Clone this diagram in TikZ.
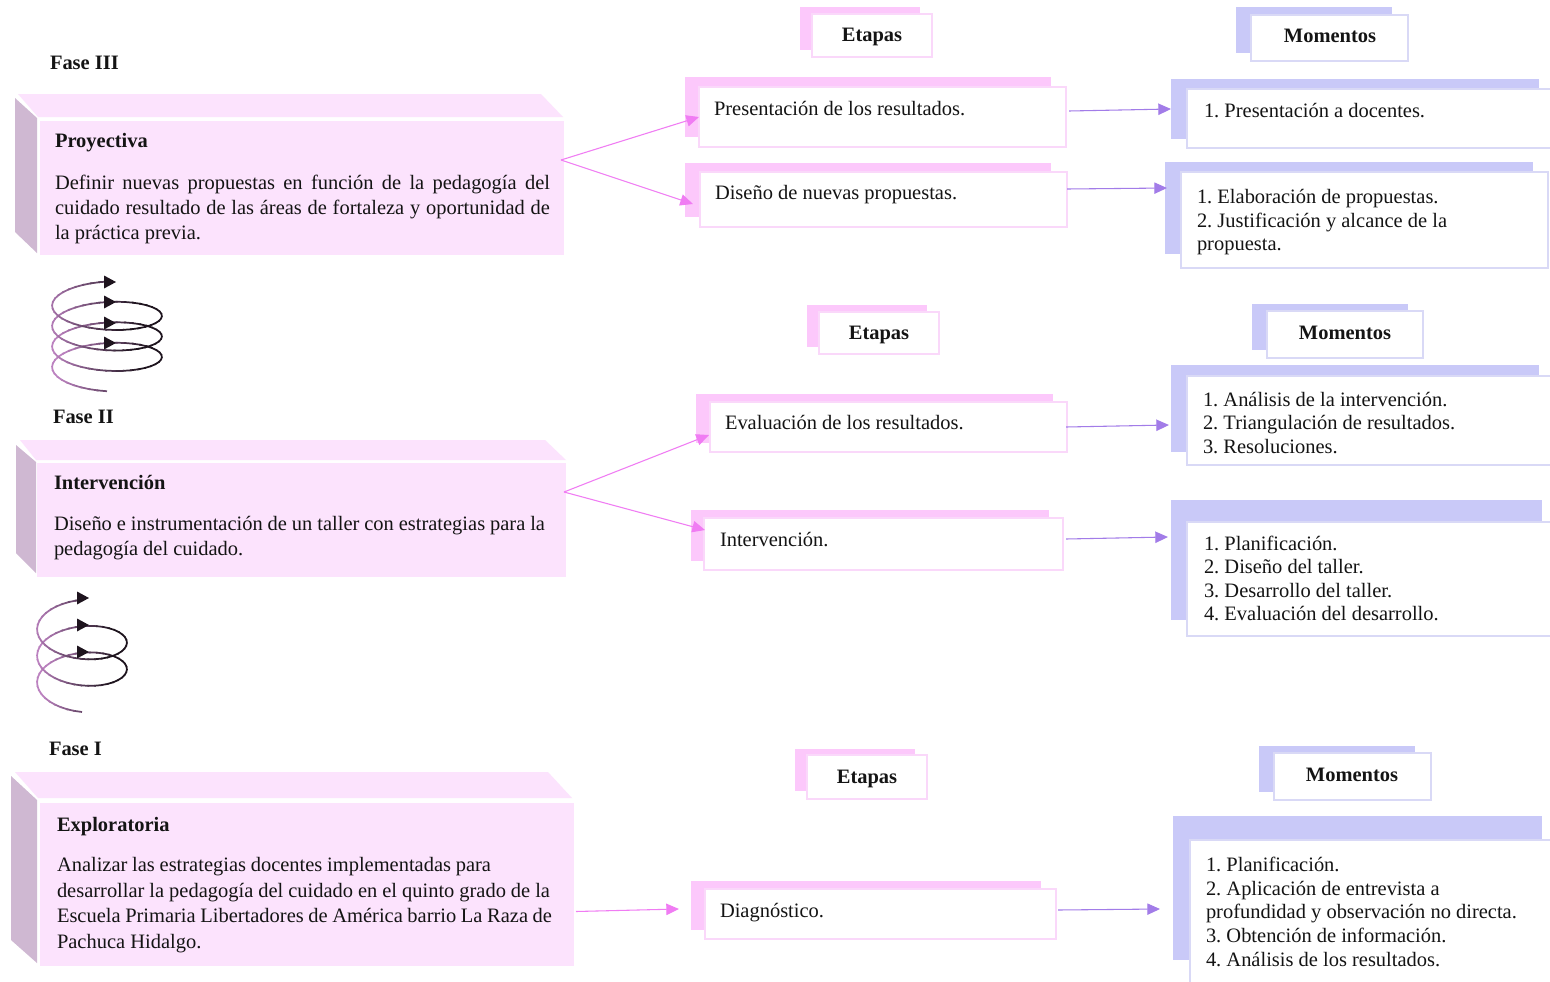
\documentclass[tikz,border=0pt]{standalone}
\usepackage{fontspec}
\setmainfont{Liberation Serif}
\usetikzlibrary{arrows.meta}
\definecolor{pinkback}{HTML}{FCC8FB}
\definecolor{pinkline}{HTML}{FAD8FA}
\definecolor{vioback}{HTML}{C9C9F8}
\definecolor{violine}{HTML}{D9D9F6}
\definecolor{mainfill}{HTML}{FCE3FD}
\definecolor{sidefill}{HTML}{CFB8D2}
\definecolor{pinkarrow}{HTML}{F07CF3}
\definecolor{vioarrow}{HTML}{A27CE8}
\definecolor{inktext}{HTML}{141414}
\definecolor{spdark}{HTML}{1E141E}
\definecolor{splight}{HTML}{BC82C0}
\tikzset{
  x=0.75pt,y=-0.75pt,
  box/.style n args={4}{at={({(#1+#3)/2},{(#2+#4)/2})},minimum width={(#3-#1)*0.75pt},minimum height={(#4-#2)*0.75pt},inner sep=0pt,outer sep=0pt},
  pback/.style={fill=pinkback},
  pfront/.style={fill=white,draw=pinkline,line width=1.1pt},
  vback/.style={fill=vioback},
  vfront/.style={fill=white,draw=violine,line width=1.1pt},
  mainbox/.style={fill=mainfill},
  tx/.style={anchor=base west,inner sep=0pt,outer sep=0pt,text=inktext,font=\fontsize{15.35pt}{18pt}\selectfont\frenchspacing},
  hd/.style={anchor=base west,inner sep=0pt,outer sep=0pt,text=inktext,font=\fontsize{15.35pt}{18pt}\selectfont\bfseries},
  hdc/.style={anchor=base,inner sep=0pt,outer sep=0pt,text=inktext,font=\fontsize{15.35pt}{18pt}\selectfont\bfseries},
  pconn/.style={draw=pinkarrow,line width=0.8pt,-{Triangle[length=9.5pt,width=8.5pt,fill=pinkarrow]}},
  vconn/.style={draw=vioarrow,line width=0.8pt,-{Triangle[length=9.5pt,width=8.5pt,fill=vioarrow]}},
}
% cx rx ry yc0 rise tmax : helix with purple left side and dark right side
\newcommand\helix[6]{%
  \foreach \k in {1,...,\numexpr\fpeval{round(#6*40)}\relax}{%
    \pgfmathsetmacro\ta{(\k-1)/40}%
    \pgfmathsetmacro\tb{(\k+0.25)/40}%
    \pgfmathsetmacro\tha{270-360*\ta}%
    \pgfmathsetmacro\thb{270-360*\tb}%
    \pgfmathsetmacro\mixv{max(0,min(100,50+62*cos(\tha)+8*\ta))}%
    \colorlet{spcol}{spdark!\mixv!splight}%
    \draw[spcol,line width=1.3pt,line cap=butt]
      ({#1+#2*cos(\tha)},{#4-#5*\ta-#3*sin(\tha)}) --
      ({#1+#2*cos(\thb)},{#4-#5*\tb-#3*sin(\thb)});
  }%
}
\newcommand\headmark[2]{\fill[spdark] (#1-3,#2-6.5) -- (#1+9,#2) -- (#1-3,#2+6.5) -- cycle;}
\newcommand\fitline[2]{\makebox[#1\dimexpr0.75pt\relax][s]{#2}}
\begin{document}
\begin{tikzpicture}
\clip (0,0) rectangle (1550,982);
\fill[white] (0,0) rectangle (1550,982);

% ---------- Phase III
\node[hd] (f3) at (50,69) {Fase III};
\fill[mainfill] (18,94) -- (541,94) -- (563,117) -- (38,117) -- cycle;
\fill[sidefill] (15,98) -- (37,118) -- (37,253) -- (15,232) -- cycle;
\node[mainbox,box={40}{121}{564}{255}] (p3) {};
\node[hd] (p3h) at (55,147) {Proyectiva};
\node[tx] (p3a) at (55,189) {\fitline{495}{Definir nuevas propuestas en función de la pedagogía del}};
\node[tx] (p3b) at (55,214) {\fitline{495}{cuidado resultado de las áreas de fortaleza y oportunidad de}};
\node[tx] (p3c) at (55,239) {la práctica previa.};

\node[pback,box={800}{7}{920}{50}] (e3b) {};
\node[pfront,box={812}{14}{932}{57}] (e3) {};
\node[hdc] (e3t) at (872,41) {Etapas};
\node[vback,box={1236}{7}{1392}{53}] (m3b) {};
\node[vfront,box={1251}{15}{1408}{61}] (m3) {};
\node[hdc] (m3t) at (1330,42) {Momentos};

\node[pback,box={685}{77}{1051}{137}] (a1b) {};
\node[pfront,box={699}{87}{1066}{147}] (a1) {};
\node[tx] (a1t) at (714,115) {Presentación de los resultados.};
\node[pback,box={685}{163}{1051}{217}] (a2b) {};
\node[pfront,box={700}{172}{1067}{227}] (a2) {};
\node[tx] (a2t) at (715,199) {Diseño de nuevas propuestas.};

\node[vback,box={1171}{79}{1539}{139}] (c1b) {};
\node[vfront,box={1187}{89}{1560}{148}] (c1) {};
\node[tx] (c1t) at (1204,117) {1. Presentación a docentes.};
\node[vback,box={1165}{162}{1533}{254}] (c2b) {};
\node[vfront,box={1181}{172}{1548}{268}] (c2) {};
\node[tx] (c2a) at (1197,203) {1. Elaboración de propuestas.};
\node[tx] (c2c) at (1197,227) {2. Justificación y alcance de la};
\node[tx] (c2d) at (1197,250) {propuesta.};

\draw[pconn] ([shift={(-3,-28)}]p3.east) -- (a1.west);
\draw[pconn] ([shift={(-3,-28)}]p3.east) -- ([shift={(8,14)}]a2b.west);
\draw[vconn] ([shift={(3,-6)}]a1.east) -- (c1b.west);
\draw[vconn] ([shift={(0,-10.5)}]a2.east) -- ([shift={(2,-20)}]c2b.west);

\helix{107}{55}{19}{372.25}{20.5}{3.5}
\headmark{107}{343}\headmark{107}{323}\headmark{107}{302}\headmark{107}{282}

% ---------- Phase II
\node[hd] (f2) at (53,423) {Fase II};
\fill[mainfill] (20,440) -- (545,440) -- (566,460) -- (36,460) -- cycle;
\fill[sidefill] (16,445) -- (36,462) -- (36,573) -- (16,553) -- cycle;
\node[mainbox,box={37}{463}{566}{577}] (p2) {};
\node[hd] (p2h) at (54,489) {Intervención};
\node[tx] (p2a) at (54,530) {\fitline{491}{Diseño e instrumentación de un taller con estrategias para la}};
\node[tx] (p2b) at (54,555) {pedagogía del cuidado.};

\node[pback,box={807}{305}{927}{347}] (e2b) {};
\node[pfront,box={819}{312}{939}{354}] (e2) {};
\node[hdc] (e2t) at (879,339) {Etapas};
\node[vback,box={1252}{304}{1408}{350}] (m2b) {};
\node[vfront,box={1267}{311}{1423}{358}] (m2) {};
\node[hdc] (m2t) at (1345,339) {Momentos};

\node[pback,box={696}{394}{1053}{443}] (b1b) {};
\node[pfront,box={710}{402}{1067}{452}] (b1) {};
\node[tx] (b1t) at (725,429) {Evaluación de los resultados.};
\node[pback,box={691}{510}{1049}{561}] (b2b) {};
\node[pfront,box={704}{518}{1063}{570}] (b2) {};
\node[tx] (b2t) at (720,546) {Intervención.};

\node[vback,box={1171}{365}{1539}{452}] (d1b) {};
\node[vfront,box={1187}{376}{1560}{465}] (d1) {};
\node[tx] (d1a) at (1203,406) {1. Análisis de la intervención.};
\node[tx] (d1c) at (1203,429) {2. Triangulación de resultados.};
\node[tx] (d1d) at (1203,453) {3. Resoluciones.};
\node[vback,box={1171}{500}{1542}{620}] (d2b) {};
\node[vfront,box={1187}{522}{1560}{636}] (d2) {};
\node[tx] (d2a) at (1204,550) {1. Planificación.};
\node[tx] (d2c) at (1204,573) {2. Diseño del taller.};
\node[tx] (d2d) at (1204,597) {3. Desarrollo del taller.};
\node[tx] (d2e) at (1204,620) {4. Evaluación del desarrollo.};

\draw[pconn] ([shift={(-2,-28)}]p2.east) -- ([shift={(-1,8)}]b1.west);
\draw[pconn] ([shift={(-2,-28)}]p2.east) -- ([shift={(1,-14)}]b2.west);
\draw[vconn] ([shift={(-1,0)}]b1.east) -- ([shift={(-2,16.5)}]d1b.west);
\draw[vconn] ([shift={(3,-5)}]b2.east) -- ([shift={(-3,-23)}]d2b.west);

\helix{82}{45}{23}{689}{26.5}{2.5}
\headmark{80}{652}\headmark{80}{625}\headmark{80}{598}

% ---------- Phase I
\node[hd] (f1) at (49,755) {Fase I};
\fill[mainfill] (15,772) -- (548,772) -- (572,798) -- (38,798) -- cycle;
\fill[sidefill] (11,776) -- (37,800) -- (37,963) -- (11,940) -- cycle;
\node[mainbox,box={40}{803}{574}{966}] (p1) {};
\node[hd] (p1h) at (57,831) {Exploratoria};
\node[tx] (p1a) at (57,871) {\fitline{434}{Analizar las estrategias docentes implementadas para}};
\node[tx] (p1b) at (57,897) {\fitline{493}{desarrollar la pedagogía del cuidado en el quinto grado de la}};
\node[tx] (p1c) at (57,922) {\fitline{495}{Escuela Primaria Libertadores de América barrio La Raza de}};
\node[tx] (p1d) at (57,948) {Pachuca Hidalgo.};

\node[pback,box={795}{749}{915}{791}] (e1b) {};
\node[pfront,box={807}{755}{927}{799}] (e1) {};
\node[hdc] (e1t) at (867,783) {Etapas};
\node[vback,box={1259}{746}{1415}{792}] (m1b) {};
\node[vfront,box={1274}{753}{1431}{800}] (m1) {};
\node[hdc] (m1t) at (1352,781) {Momentos};

\node[pback,box={691}{881}{1041}{930}] (g1b) {};
\node[pfront,box={705}{889}{1056}{939}] (g1) {};
\node[tx] (g1t) at (720,917) {Diagnóstico.};

\node[vback,box={1173}{816}{1542}{960}] (h1b) {};
\node[vfront,box={1190}{840}{1560}{1000}] (h1) {};
\node[tx] (h1a) at (1206,871) {1. Planificación.};
\node[tx] (h1c) at (1206,895) {2. Aplicación de entrevista a};
\node[tx] (h1d) at (1206,918) {profundidad y observación no directa.};
\node[tx] (h1e) at (1206,942) {3. Obtención de información.};
\node[tx] (h1f) at (1206,966) {4. Análisis de los resultados.};

\draw[pconn] ([shift={(2,27)}]p1.east) -- ([shift={(-12,3.5)}]g1b.west);
\draw[vconn] ([shift={(2,-4)}]g1.east) -- ([shift={(-13,21)}]h1b.west);
\end{tikzpicture}
\end{document}
